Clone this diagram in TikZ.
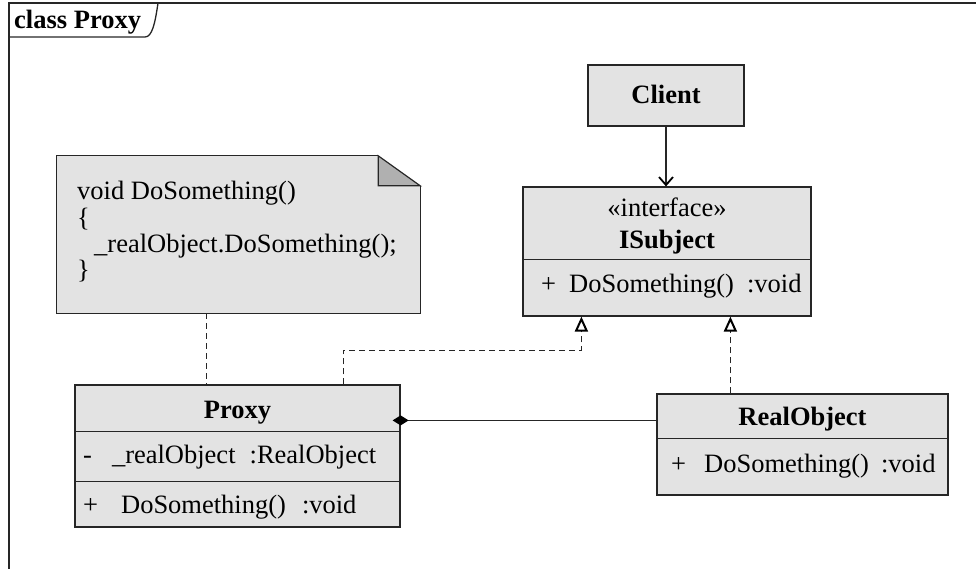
\documentclass[tikz,border=0pt]{standalone}
\usepackage{fontspec}
\setmainfont{Liberation Serif}
\usetikzlibrary{arrows.meta,calc}
\definecolor{boxfill}{HTML}{E3E3E3}
\definecolor{foldfill}{HTML}{B0B0B0}
\definecolor{ln}{HTML}{262626}
\begin{document}
\begin{tikzpicture}[x=1pt,y=-1pt,
  umlbox/.style={draw=ln, fill=boxfill, line width=1.2pt, inner sep=0pt, rectangle},
  divider/.style={draw=ln, line width=1.2pt},
  txt/.style={inner sep=0pt, anchor=base, font=\fontsize{26.5}{26}\selectfont},
  txtl/.style={txt, anchor=base west},
  btxt/.style={txt, font=\fontsize{26.5}{26}\selectfont\bfseries},
  conn/.style={draw=ln, line width=1.2pt},
  realize/.style={conn, dash pattern=on 6pt off 4pt, -{Triangle[open, width=13pt, length=15pt, line width=2pt, color=black]}},
  notelink/.style={conn, dash pattern=on 6pt off 4pt},
  assoc/.style={conn, -{Straight Barb[length=8pt, width=14pt, line width=1.8pt, color=black]}},
  compose/.style={conn, {Diamond[length=16pt, width=10pt, fill=black, color=black]}-}
]
\useasboundingbox (0,0) rectangle (976,569);

% frame
\draw[ln, line width=1.3pt] (9,569) -- (9,3) -- (976,3);
\draw[ln, line width=1.3pt] (9,37) -- (145,37) .. controls (152,37) and (155,24) .. (158,3);
\node[btxt, anchor=base west] (frametitle) at (14,29) {class Proxy};

% Client
\node[umlbox, minimum width=156pt, minimum height=61pt] (client) at (666,95.5) {};
\node[btxt] (clientname) at (666,104) {Client};

% ISubject
\node[umlbox, minimum width=288pt, minimum height=129pt] (isubject) at (667,251.5) {};
\draw[divider] ($(isubject.north west)+(0,73)$) -- ($(isubject.north east)+(0,73)$);
\node[txt] (stereo) at (667,217) {«interface»};
\node[btxt] (isubjectname) at (667,248) {ISubject};
\node[txtl] (isubjectop) at (541,292) {+\hspace{13pt}DoSomething()\hspace{13pt}:void};

% Note
\node[inner sep=0pt, minimum width=363pt, minimum height=157pt] (note) at (238.5,234.5) {};
\fill[boxfill] (note.north west) -- ($(note.north east)+(-42,0)$) -- ($(note.north east)+(0,30)$) -- (note.south east) -- (note.south west) -- cycle;
\draw[ln, line width=1.2pt, fill=foldfill] ($(note.north east)+(-42,0)$) -- ($(note.north east)+(-42,30)$) -- ($(note.north east)+(0,30)$) -- cycle;
\draw[ln, line width=1.2pt] ($(note.north east)+(-42,0)$) -- (note.north west) -- (note.south west) -- (note.south east) -- ($(note.north east)+(0,30)$);
\node[txtl] (n1) at (77,200) {void DoSomething()};
\node[txtl] (n2) at (77,226) {\{};
\node[txtl] (n3) at (77,252) {\hspace{17pt}\_realObject.DoSomething();};
\node[txtl] (n4) at (77,278) {\}};

% Proxy
\node[umlbox, minimum width=325pt, minimum height=142pt] (proxy) at (237.5,456) {};
\draw[divider] ($(proxy.north west)+(0,47)$) -- ($(proxy.north east)+(0,47)$);
\draw[divider] ($(proxy.north west)+(0,97)$) -- ($(proxy.north east)+(0,97)$);
\node[btxt] (proxyname) at (237.5,418) {Proxy};
\node[txtl] (proxyattr) at (83,463) {-\hspace{20pt}\_realObject\hspace{14pt}:RealObject};
\node[txtl] (proxyop) at (83,513) {+\hspace{23pt}DoSomething()\hspace{16pt}:void};

% RealObject
\node[umlbox, minimum width=291pt, minimum height=101pt] (realobj) at (802.5,444.5) {};
\draw[divider] ($(realobj.north west)+(0,45)$) -- ($(realobj.north east)+(0,45)$);
\node[btxt] (realobjname) at (802.5,425) {RealObject};
\node[txtl] (realobjop) at (671,472) {+\hspace{18pt}DoSomething()\hspace{12pt}:void};

% connectors
\draw[assoc] (client.south) -- (client.south |- isubject.north);
\draw[notelink] ($(note.south west)+(150,0)$) coordinate (nb) -- (nb |- proxy.north);
\draw[realize] ($(proxy.north west)+(269,0)$) -- ++(0,-34) -| ($(isubject.south west)+(59,0)$);
\draw[realize] ($(realobj.north west)+(74,0)$) -- ($(isubject.south west)+(208,0)$);
\coordinate (cstart) at ($(proxy.north east)+(-8,36)$);
\draw[compose] (cstart) -- (cstart -| realobj.west);
\end{tikzpicture}
\end{document}
